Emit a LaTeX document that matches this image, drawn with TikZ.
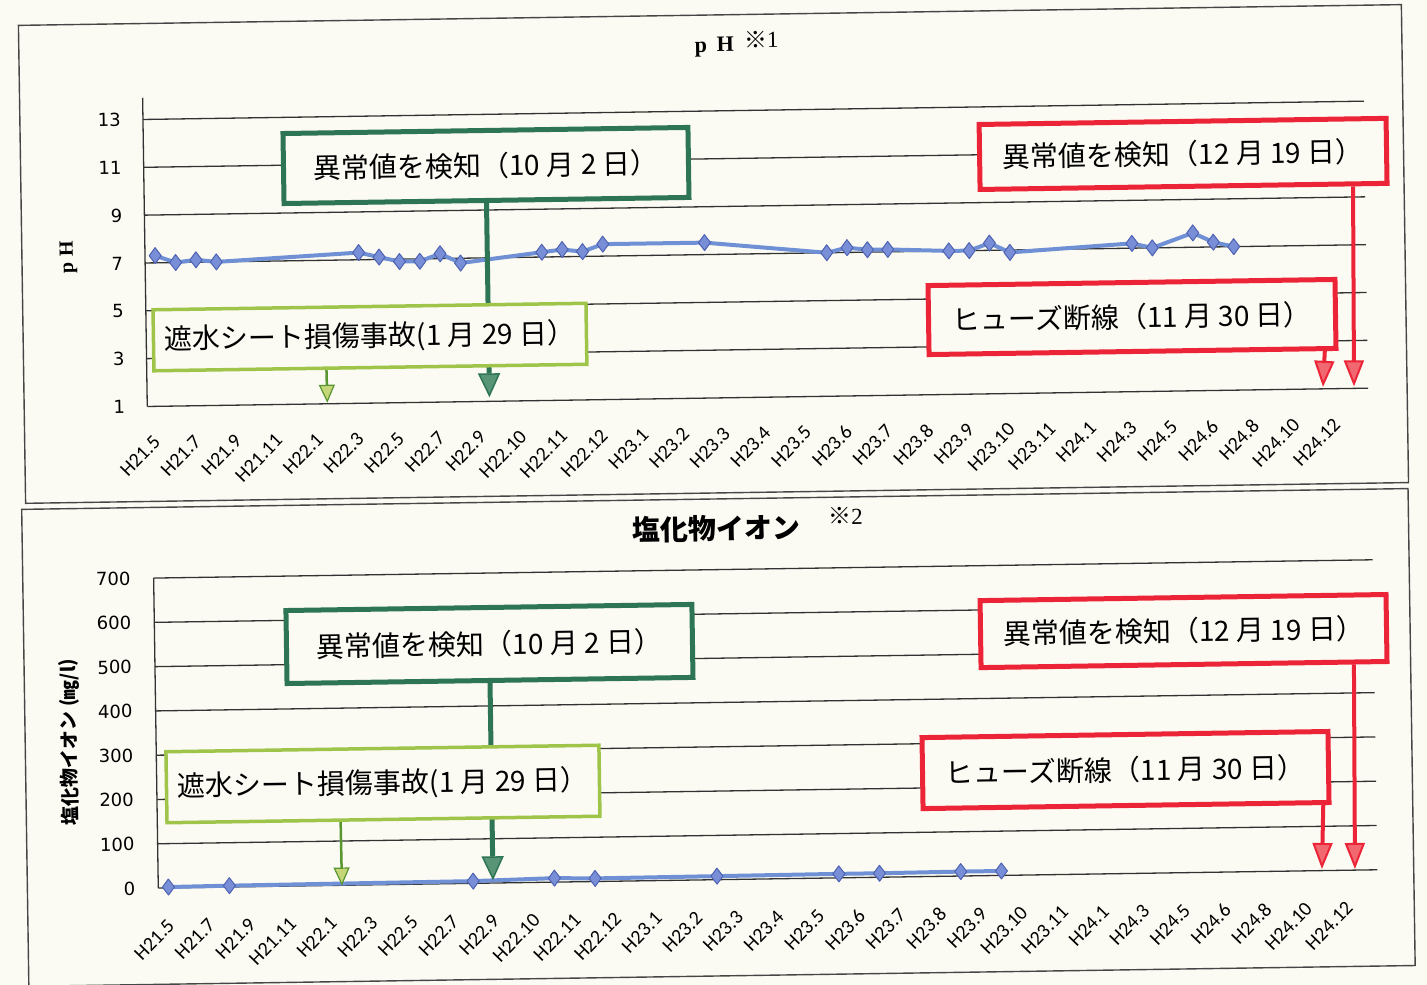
\documentclass[tikz,border=0pt]{standalone}
\usepackage{fontspec}
\setmainfont{Liberation Serif}
\newfontfamily\cjk{Noto Sans CJK JP}
\newfontfamily\tickfont{DejaVu Sans}
\newfontfamily\catfont{Carlito}
\usetikzlibrary{arrows.meta,plotmarks,calc}

\definecolor{paper}{RGB}{252,251,243}
\definecolor{framegray}{RGB}{70,70,70}
\definecolor{gridgray}{RGB}{50,50,50}
\definecolor{lineblue}{RGB}{112,144,214}
\definecolor{markblue}{RGB}{120,142,214}
\definecolor{markedge}{RGB}{78,98,178}
\definecolor{darkgreen}{RGB}{46,117,86}
\definecolor{darkgreenfill}{RGB}{88,148,118}
\definecolor{lightgreen}{RGB}{158,196,74}
\definecolor{lightgreenline}{RGB}{88,150,48}
\definecolor{lightgreenfill}{RGB}{196,214,120}
\definecolor{alarmred}{RGB}{236,36,56}
\definecolor{alarmfill}{RGB}{242,104,112}

\pgfdeclarelayer{back}
\pgfdeclarelayer{plot}
\pgfsetlayers{back,plot,main}

\begin{document}
\begin{tikzpicture}[x=1pt, y=-1pt,
    frame/.style={draw=framegray, line width=1.4pt},
    gridline/.style={draw=gridgray, line width=1.3pt},
    dataline/.style={draw=lineblue, line width=4pt, line join=round, mark=diamond*, mark size=8pt,
        mark options={fill=markblue, draw=markedge, line width=1pt}},
    darkbox/.style={draw=darkgreen, line width=5pt, fill=paper, inner sep=0pt},
    lightbox/.style={draw=lightgreen, line width=3.5pt, fill=paper, inner sep=0pt},
    redbox/.style={draw=alarmred, line width=5pt, fill=paper, inner sep=0pt},
    darkarrow/.style={draw=darkgreen, line width=5pt,
        -{Triangle[length=24pt, width=22pt, line width=1.5pt, fill=darkgreenfill]}},
    lightarrow/.style={draw=lightgreenline, line width=2.5pt,
        -{Triangle[length=18pt, width=16pt, line width=1.2pt, fill=lightgreenfill]}},
    redarrow/.style={draw=alarmred, line width=4pt,
        -{Triangle[length=26pt, width=20pt, line width=2pt, fill=alarmfill]}}]

    \useasboundingbox (0,0) rectangle (1427,985);
    \begin{pgfonlayer}{back}
        \fill[paper] (0,0) rectangle (1427,985);
    \end{pgfonlayer}

    \begin{scope}[rotate around={0.86:(713,492)}, transform shape]

        % panels
        \begin{pgfonlayer}{back}
            \draw[frame] (25.5,15) rectangle (1408.6,493);
            \draw[frame] (21.5,499) rectangle (1408,976);
        \end{pgfonlayer}

        % titles
        \node[font=\bfseries\fontsize{22}{22}\selectfont] (phtitle) at (721,47) {p\hspace{0.45em}H};
        \node[font=\fontsize{23}{23}\selectfont] (phnote) at (768,40) {{\cjk ※}1};
        \node[font=\cjk\bfseries\fontsize{28}{28}\selectfont] (cltitle) at (716,528.6) {塩化物イオン};
        \node[font=\fontsize{23}{23}\selectfont] (clnote) at (845,518) {{\cjk ※}2};

        \node[font=\bfseries\fontsize{20}{20}\selectfont, rotate=90] (phaxis) at (72,248) {p\hspace{0.3em}H};
        \node[font=\cjk\bfseries\fontsize{19}{19}\selectfont, rotate=90] (claxis) at (66.3,732.4) {塩化物イオン (㎎/l)};

        % pH chart
        \begin{scope}[shift={(148.6,398)}, x=20.35pt, y=23.92pt]
            \begin{pgfonlayer}{back}
                \foreach \v in {1,3,...,13}
                    \draw[gridline] (0,\v-1) -- (60,\v-1);
                \draw[gridline] (0,0) -- (0,12.9);
            \end{pgfonlayer}

            \begin{scope}[every node/.style={font=\tickfont\fontsize{18}{18}\selectfont, anchor=east, inner sep=0pt}]
                \foreach \v in {1,3,...,13}
                    \node (phy\v) at (-1.08,\v-1) {\v};
            \end{scope}

            \begin{scope}[every node/.style={font=\catfont\fontsize{20}{20}\selectfont, rotate=45, anchor=east, inner sep=0pt}]
                \foreach \lab [count=\i from 0] in {H21.5,H21.7,H21.9,H21.11,H22.1,H22.3,H22.5,H22.7,H22.9,H22.10,
                        H22.11,H22.12,H23.1,H23.2,H23.3,H23.4,H23.5,H23.6,H23.7,H23.8,H23.9,H23.10,H23.11,
                        H24.1,H24.3,H24.5,H24.6,H24.8,H24.10,H24.12}
                    \node (phx\i) at ({2*\i+0.45},-1.36) {\lab};
            \end{scope}

            \begin{pgfonlayer}{plot}
                \draw[dataline, shift={(0.5,-1)}] plot coordinates {(0,7.3) (1,7.0) (2,7.1) (3,7.0)
                    (10,7.3) (11,7.1) (12,6.9) (13,6.9) (14,7.2) (15,6.8) (19,7.2) (20,7.3) (21,7.2) (22,7.5)
                    (27,7.5) (33,7.0) (34,7.2) (35,7.1) (36,7.1) (39,7.0) (40,7.0) (41,7.3) (42,6.9)
                    (48,7.2) (49,7.0) (51,7.6) (52,7.2) (53,7.0)};
            \end{pgfonlayer}
        \end{scope}

        % chloride chart
        \begin{scope}[shift={(152.4,879.7)}, x=20.32pt, y=0.4429pt]
            \begin{pgfonlayer}{back}
                \foreach \v in {0,100,...,700}
                    \draw[gridline] (0,\v) -- (60,\v);
                \draw[gridline] (0,0) -- (0,700);
            \end{pgfonlayer}

            \begin{scope}[every node/.style={font=\tickfont\fontsize{18}{18}\selectfont, anchor=east, inner sep=0pt}]
                \foreach \v in {0,100,...,700}
                    \node (cly\v) at (-1.13,\v) {\v};
            \end{scope}

            \begin{scope}[every node/.style={font=\catfont\fontsize{20}{20}\selectfont, rotate=45, anchor=east, inner sep=0pt}]
                \foreach \lab [count=\i from 0] in {H21.5,H21.7,H21.9,H21.11,H22.1,H22.3,H22.5,H22.7,H22.9,H22.10,
                        H22.11,H22.12,H23.1,H23.2,H23.3,H23.4,H23.5,H23.6,H23.7,H23.8,H23.9,H23.10,H23.11,
                        H24.1,H24.3,H24.5,H24.6,H24.8,H24.10,H24.12}
                    \node (clx\i) at ({2*\i+0.6},-78) {\lab};
            \end{scope}

            \begin{pgfonlayer}{plot}
                \draw[dataline, shift={(0.5,0)}] plot coordinates {(0,2) (3,3) (15,5) (19,9) (21,7)
                    (27,8) (33,9) (35,9) (39,10) (41,10)};
            \end{pgfonlayer}
        \end{scope}

        % call-out boxes
        \begin{scope}[every node/.style={font=\cjk\fontsize{28}{32}\selectfont}]
            \node[darkbox, minimum width=405pt, minimum height=70pt] (g1) at (490.9,162.1) {異常値を検知（10 月 2 日）};
            \node[lightbox, minimum width=433pt, minimum height=61pt] (lg1) at (372.3,331.9) {遮水シート損傷事故(1 月 29 日）};
            \node[redbox, minimum width=407pt, minimum height=65pt] (r1) at (1188.1,161.0) {異常値を検知（12 月 19 日）};
            \node[redbox, minimum width=407pt, minimum height=69pt] (r2) at (1134.6,323.3) {ヒューズ断線（11 月 30 日）};

            \node[darkbox, minimum width=406pt, minimum height=73pt] (g2) at (487.2,640.6) {異常値を検知（10 月 2 日）};
            \node[lightbox, minimum width=433pt, minimum height=71pt] (lg2) at (378.6,779.0) {遮水シート損傷事故(1 月 29 日）};
            \node[redbox, minimum width=406pt, minimum height=67pt] (r3) at (1181.4,638.1) {異常値を検知（12 月 19 日）};
            \node[redbox, minimum width=406pt, minimum height=71pt] (r4) at (1121.3,776.2) {ヒューズ断線（11 月 30 日）};
        \end{scope}

        % arrows to the axis
        \begin{pgfonlayer}{plot}
            \coordinate (t1) at (490.9,394);
            \coordinate (t2) at (328.7,397);
            \coordinate (t3) at (1355.6,396);
            \coordinate (t4) at (1324.6,396);
            \draw[darkarrow] (g1.south) -- (t1);
            \draw[lightarrow] ($(lg1.south west)!0.3993!(lg1.south east)$) -- (t2);
            \draw[redarrow] ($(r1.south west)!0.9115!(r1.south east)$) -- (t3);
            \draw[redarrow] ($(r2.south west)!0.9668!(r2.south east)$) -- (t4);

            \coordinate (t5) at (487.2,877);
            \coordinate (t6) at (336.1,880);
            \coordinate (t7) at (1349.3,878.6);
            \coordinate (t8) at (1316.3,878.1);
            \draw[darkarrow] (g2.south) -- (t5);
            \draw[lightarrow] ($(lg2.south west)!0.4018!(lg2.south east)$) -- (t6);
            \draw[redarrow] ($(r3.south west)!0.9135!(r3.south east)$) -- (t7);
            \draw[redarrow] ($(r4.south west)!0.980!(r4.south east)$) -- (t8);
        \end{pgfonlayer}

    \end{scope}
\end{tikzpicture}
\end{document}
